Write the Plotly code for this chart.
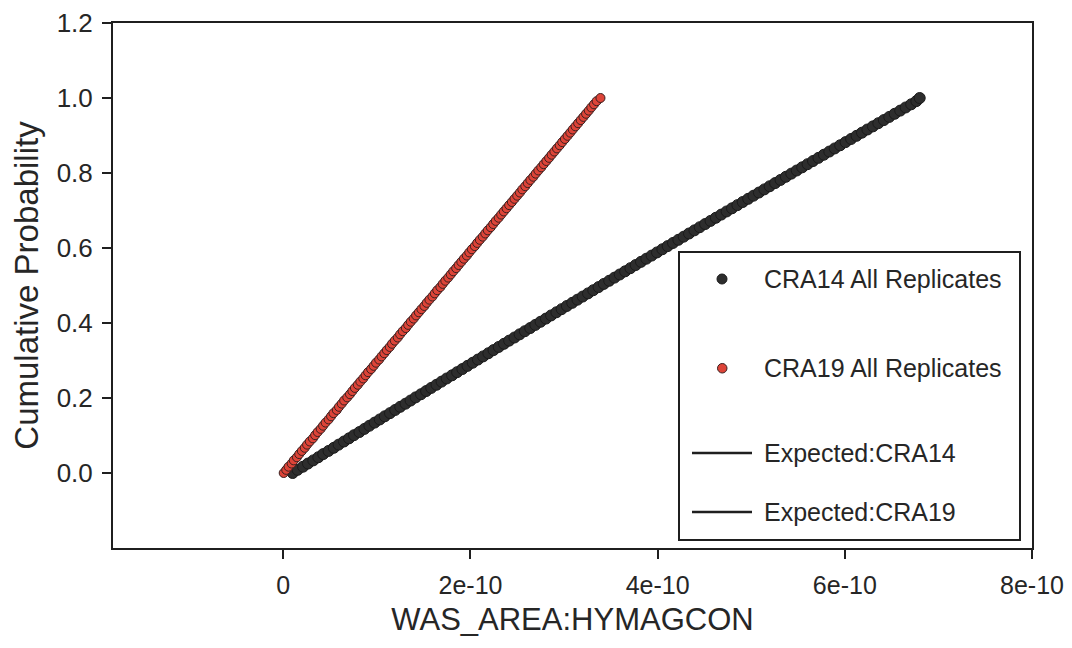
import plotly.graph_objects as go

# ---- data (x values in units of 1e-12) ----
X_UNIT = 1e-12

cra14_values = [
    10.0, 15.2, 21.1, 26.3, 32.0, 37.4, 42.6, 48.3, 53.9, 59.1,
    64.8, 70.2, 75.5, 81.3, 86.7, 92.0, 97.6, 103.1, 108.4, 114.0,
    119.5, 124.9, 130.6, 136.0, 141.4, 147.1, 152.6, 158.0, 163.7, 169.1,
    174.6, 180.3, 185.7, 191.3, 196.8, 202.4, 207.9, 213.5, 219.1, 224.6,
    230.2, 235.8, 241.3, 247.0, 252.5, 258.1, 263.8, 269.3, 274.9, 280.6,
    286.1, 291.8, 297.4, 303.0, 308.7, 314.3, 319.9, 325.6, 331.2, 336.9,
    342.5, 348.2, 353.9, 359.5, 365.2, 370.9, 376.5, 382.2, 387.9, 393.6,
    399.3, 405.0, 410.7, 416.4, 422.1, 427.8, 433.5, 439.3, 445.0, 450.7,
    456.5, 462.2, 467.9, 473.7, 479.4, 485.2, 490.9, 496.7, 502.4, 508.2,
    514.0, 519.7, 525.5, 531.3, 537.0, 542.8, 548.6, 554.4, 560.2, 566.0,
    571.8, 577.6, 583.4, 589.2, 595.0, 600.8, 606.7, 612.5, 618.3, 624.1,
    630.0, 635.8, 641.7, 647.5, 653.3, 659.2, 665.0, 670.9, 676.4, 680.0,
]

cra19_values = [
    0.4, 3.1, 5.6, 8.9, 11.2, 14.5, 17.0, 19.8, 22.9, 25.4,
    28.3, 31.6, 34.0, 36.7, 39.9, 42.5, 45.2, 48.4, 51.0, 53.6,
    57.1, 59.5, 62.4, 65.0, 68.3, 71.2, 73.8, 76.5, 79.6, 82.3,
    85.4, 87.9, 90.6, 93.8, 96.5, 99.1, 102.4, 105.0, 107.9, 110.6,
    113.7, 116.2, 119.1, 122.3, 124.8, 127.6, 130.9, 133.4, 136.2, 139.3,
    141.9, 144.8, 147.6, 150.7, 153.2, 156.1, 159.3, 161.8, 164.5, 167.8,
    170.3, 173.1, 176.2, 178.9, 181.6, 184.7, 187.3, 190.2, 193.0, 196.1,
    198.7, 201.5, 204.6, 207.2, 210.0, 213.1, 215.8, 218.5, 221.6, 224.3,
    227.0, 230.1, 232.8, 235.6, 238.5, 241.3, 244.2, 247.0, 249.9, 252.8,
    255.4, 258.5, 261.2, 264.0, 267.1, 269.7, 272.5, 275.6, 278.2, 281.1,
    284.0, 286.7, 289.6, 292.4, 295.3, 298.0, 300.9, 303.7, 306.6, 309.3,
    312.2, 315.0, 317.8, 320.7, 323.5, 326.4, 329.1, 332.0, 334.8, 338.9,
]

expected_cra14_x = [10.0, 680.0]
expected_cra14_p = [0.0, 1.0]
expected_cra19_x = [0.0, 339.0]
expected_cra19_p = [0.0, 1.0]

x_tick_vals = [0, 2e-10, 4e-10, 6e-10, 8e-10]
x_tick_text = ["0", "2e-10", "4e-10", "6e-10", "8e-10"]
y_tick_vals = [0.0, 0.2, 0.4, 0.6, 0.8, 1.0, 1.2]
y_tick_text = ["0.0", "0.2", "0.4", "0.6", "0.8", "1.0", "1.2"]

legend_labels = ["CRA14 All Replicates", "CRA19 All Replicates",
                 "Expected:CRA14", "Expected:CRA19"]


def ecdf(values):
    xs = sorted(values)
    n = len(xs)
    return [v * X_UNIT for v in xs], [i / (n - 1) for i in range(n)]


# ---- page geometry ----
W, H = 1072, 648
ML, MR, MT, MB = 113, 40, 23, 100
PW, PH = W - ML - MR, H - MT - MB


def px(x):
    return (x - ML) / PW


def py(y):
    return (H - MB - y) / PH


FONT = "Arial, Liberation Sans, sans-serif"
INK = "#262626"
LINE = "#1f1f1f"

fig = go.Figure()

# expected CDF lines (underneath the sample points)
fig.add_trace(go.Scatter(
    x=[v * X_UNIT for v in expected_cra14_x], y=expected_cra14_p,
    mode="lines", line=dict(color=LINE, width=2),
    name=legend_labels[2], showlegend=False))
fig.add_trace(go.Scatter(
    x=[v * X_UNIT for v in expected_cra19_x], y=expected_cra19_p,
    mode="lines", line=dict(color=LINE, width=2),
    name=legend_labels[3], showlegend=False))

x14, p14 = ecdf(cra14_values)
x19, p19 = ecdf(cra19_values)

fig.add_trace(go.Scatter(
    x=x14, y=p14, mode="markers", name=legend_labels[0], showlegend=False,
    marker=dict(size=11, color="#2d2d2d", line=dict(color="#1a1a1a", width=1))))
fig.add_trace(go.Scatter(
    x=x19, y=p19, mode="markers", name=legend_labels[1], showlegend=False,
    marker=dict(size=9, color="#dd4438", line=dict(color="#3a2020", width=1))))

# ---- legend box drawn in page coordinates ----
shapes = [
    dict(type="rect", xref="paper", yref="paper",
         x0=px(679), x1=px(1020), y0=py(540), y1=py(252),
         line=dict(color=LINE, width=2), fillcolor="white", layer="above"),
    dict(type="circle", xref="paper", yref="paper",
         x0=px(717), x1=px(727), y0=py(284), y1=py(274),
         line=dict(color="#1a1a1a", width=1), fillcolor="#2d2d2d", layer="above"),
    dict(type="circle", xref="paper", yref="paper",
         x0=px(717.5), x1=px(727), y0=py(373), y1=py(363.5),
         line=dict(color="#3a2020", width=1), fillcolor="#dd4438", layer="above"),
    dict(type="line", xref="paper", yref="paper",
         x0=px(692), x1=px(752), y0=py(453), y1=py(453),
         line=dict(color=LINE, width=2.5), layer="above"),
    dict(type="line", xref="paper", yref="paper",
         x0=px(692), x1=px(752), y0=py(512), y1=py(512),
         line=dict(color=LINE, width=2.5), layer="above"),
]
legend_rows_y = [279, 368, 453, 512]
annotations = [
    dict(text=lbl, xref="paper", yref="paper", x=px(762), y=py(yy),
         xanchor="left", yanchor="middle", showarrow=False,
         font=dict(family=FONT, size=25, color=INK))
    for lbl, yy in zip(legend_labels, legend_rows_y)
]

axis_common = dict(
    showline=True, linecolor=LINE, linewidth=2, mirror=True,
    showgrid=False, zeroline=False, ticks="outside", ticklen=9,
    tickwidth=2, tickcolor=LINE,
)

fig.update_layout(
    width=W, height=H,
    margin=dict(l=ML, r=MR, t=MT, b=MB, autoexpand=False),
    paper_bgcolor="white", plot_bgcolor="white",
    showlegend=False,
    shapes=shapes, annotations=annotations,
    xaxis=dict(
        range=[-1.82e-10, 8e-10], tickvals=x_tick_vals, ticktext=x_tick_text,
        tickfont=dict(family=FONT, size=25, color=INK),
        title=dict(text="WAS_AREA:HYMAGCON", standoff=10,
                   font=dict(family=FONT, size=31, color=INK)),
        ticklabelstandoff=5, automargin=False, **axis_common),
    yaxis=dict(
        range=[-0.2, 1.2], tickvals=y_tick_vals, ticktext=y_tick_text,
        tickfont=dict(family=FONT, size=26, color=INK),
        title=dict(text="Cumulative Probability", standoff=8,
                   font=dict(family=FONT, size=33, color=INK)),
        ticklabelstandoff=4, automargin=False, **axis_common),
)

fig.write_html("out.html")
